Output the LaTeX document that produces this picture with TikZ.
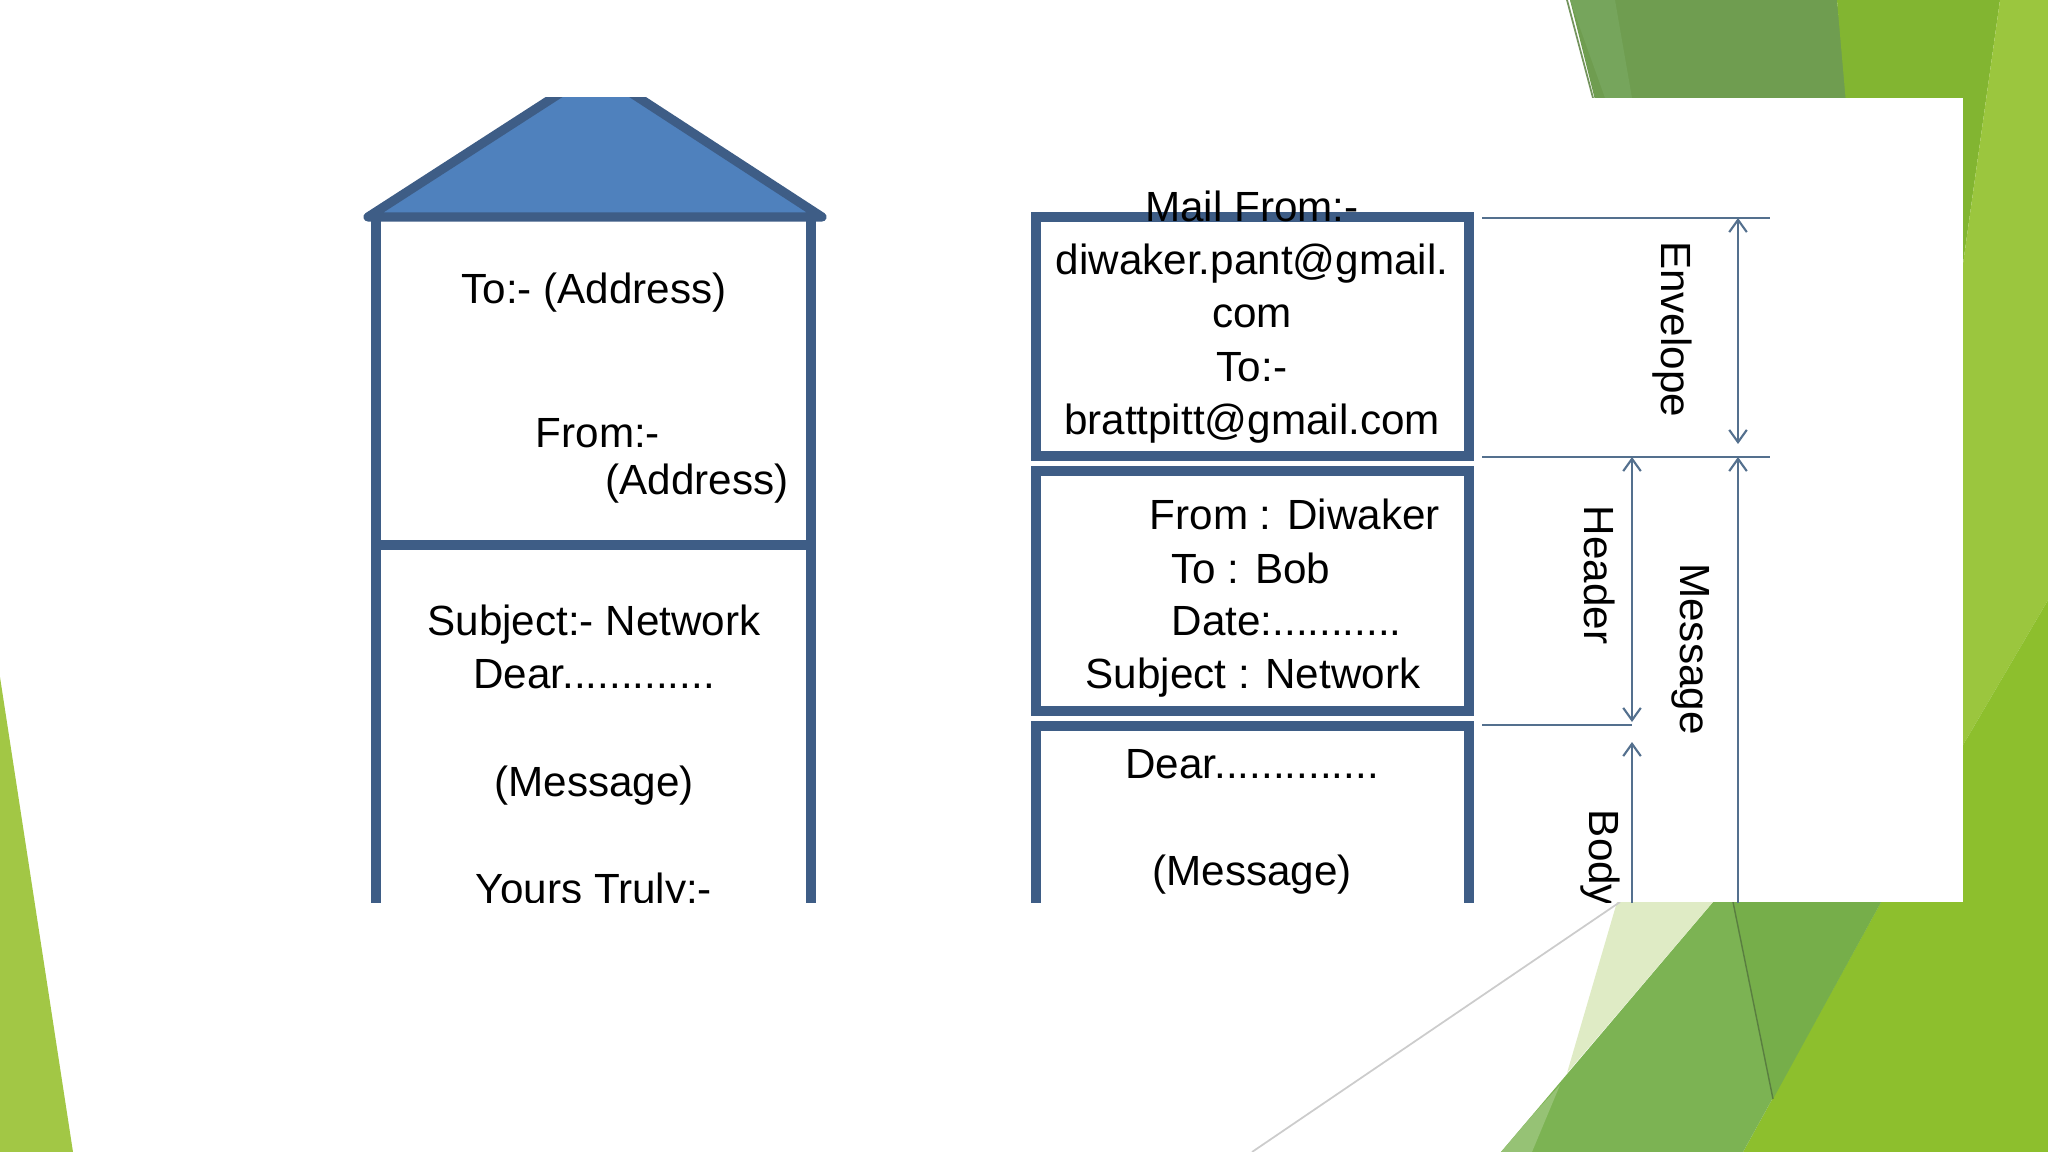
\documentclass[tikz,border=0pt]{standalone}
\usepackage{fontspec}
\setmainfont{Liberation Sans}
\usepackage{xcolor}
\usetikzlibrary{arrows.meta}

\definecolor{wallblue}{RGB}{62,93,134}
\definecolor{roofblue}{RGB}{79,129,189}
\definecolor{dimgrey}{RGB}{84,112,142}
\definecolor{leafdark}{RGB}{111,157,80}
\definecolor{leafsoft}{RGB}{118,165,92}
\definecolor{leafbright}{RGB}{130,181,49}
\definecolor{leaflight}{RGB}{155,198,62}
\definecolor{leafmid}{RGB}{124,179,83}
\definecolor{leafmidb}{RGB}{118,174,74}
\definecolor{leafgrass}{RGB}{141,191,45}
\definecolor{leafpale}{RGB}{223,235,197}
\definecolor{leaflime}{RGB}{162,199,69}

\begin{document}
\begin{tikzpicture}[x=0.01cm,y=-0.01cm,
    wall/.style={draw=wallblue,line width=2.6pt},
    txt/.style={inner sep=0pt,font=\fontsize{12}{15.2}\selectfont},
    sidetxt/.style={txt,rotate=-90},
    dimline/.style={draw=dimgrey,line width=0.6pt},
    barb/.tip={Straight Barb[length=3.5pt,width=5pt]}]

    \useasboundingbox (0,0) rectangle (2048,1152);

    % slide background
    \fill[leaflime] (0,677) -- (73,1152) -- (0,1152) -- cycle;
    \fill[leafdark] (1570,0) -- (1837,0) -- (1860,200) -- (1620,200) -- cycle;
    \fill[leafsoft] (1570,0) -- (1615,0) -- (1632,98) -- (1605,98) -- cycle;
    \draw[leafdark!70!gray,line width=0.5pt] (1567,0) -- (1593,98);
    \fill[leafbright] (1837,0) -- (2000,0) -- (1963,264) -- (1860,264) -- cycle;
    \fill[leaflight] (2000,0) -- (2048,0) -- (2048,600) -- (1963,745) -- (1963,264) -- cycle;
    \fill[leafgrass] (1881,902) -- (1963,902) -- (1963,745) -- (2048,600) -- (2048,1152) -- (1743,1152) -- cycle;
    \fill[leafmid] (1713,902) -- (1881,902) -- (1743,1152) -- (1501,1152) -- cycle;
    \fill[leafmid!80!white] (1501,1152) -- (1532,1152) -- (1560,1085) -- (1530,1118) -- cycle;
    \fill[leafmidb] (1733,902) -- (1881,902) -- (1773,1099) -- cycle;
    \draw[leafdark!80!black,line width=0.4pt] (1733,902) -- (1773,1099);
    \fill[leafpale] (1617,902) -- (1713,902) -- (1567,1073) -- cycle;
    \draw[gray!40,line width=0.5pt] (1620,902) -- (1252,1152);

    % the picture itself
    \fill[white] (270,98) rectangle (1963,902);

    \begin{scope}
    \clip (270,98) rectangle (1963,902);

    % letter drawn as a house
    \draw[wall,fill=roofblue,line join=round] (368,217) -- (596,70) -- (822,217) -- cycle;
    \draw[wall] (376,217) -- (376,940);
    \draw[wall] (811,217) -- (811,940);
    \draw[wall] (376,545) -- (811,545);

    \node[txt] (toaddr) at (594,293) {To:- (Address)};
    \node[txt,anchor=west] (fromlbl) at (535,433) {From:-};
    \node[txt,anchor=west] (fromaddr) at (605,484) {(Address)};
    \node[txt,align=center] (subjdear) at (594,647) {Subject:- Network\\Dear.............};
    \node[txt] (lettermsg) at (594,786) {(Message)};
    \node[txt] (yours) at (594,893) {Yours Truly:-};

    % mail as three boxes
    \draw[wall] (1036,217) rectangle (1469,456);
    \draw[wall] (1036,471) rectangle (1469,711);
    \draw[wall] (1036,726) rectangle (1469,960);

    \node[txt,align=center] (envtxt) at (1252,317) {Mail From:-\\diwaker.pant@gmail.\\com\\To:-\\brattpitt@gmail.com};

    \node[txt,anchor=west] (hfrom) at (1149,514) {From : Diwaker};
    \node[txt,anchor=west] (hto) at (1171,568) {To : Bob};
    \node[txt,anchor=west] (hdate) at (1171,621) {Date:...........};
    \node[txt] (hsubj) at (1253,678) {Subject : Network};

    \node[txt] (bdear) at (1252,764) {Dear..............};
    \node[txt] (bmsg) at (1252,875) {(Message)};

    % extent marks on the right
    \coordinate (cutA) at (1482,218);  \coordinate (cutA') at (1770,218);
    \coordinate (cutB) at (1482,457);  \coordinate (cutB') at (1770,457);
    \coordinate (cutC) at (1482,725);  \coordinate (cutC') at (1632,725);
    \coordinate (envtop) at (1738,218); \coordinate (envbot) at (1738,444);
    \coordinate (hdrtop) at (1632,457); \coordinate (hdrbot) at (1632,722);
    \coordinate (msgtop) at (1738,457); \coordinate (msgbot) at (1738,940);
    \coordinate (bodytop) at (1632,742); \coordinate (bodybot) at (1632,940);

    \draw[dimline] (cutA) -- (cutA');
    \draw[dimline] (cutB) -- (cutB');
    \draw[dimline] (cutC) -- (cutC');
    \draw[dimline,barb-barb] (envtop) -- (envbot);
    \draw[dimline,barb-barb] (hdrtop) -- (hdrbot);
    \draw[dimline,barb-] (msgtop) -- (msgbot);
    \draw[dimline,barb-] (bodytop) -- (bodybot);

    \node[sidetxt] (envlbl) at (1672,329) {Envelope};
    \node[sidetxt] (hdrlbl) at (1600,575) {Header};
    \node[sidetxt] (msglbl) at (1691,649) {Message};
    \node[sidetxt] (bodylbl) at (1600,858) {Body};

    % \draw[help lines,step=100] (0,0) grid (2048,1152);
    \end{scope}
\end{tikzpicture}
\end{document}
